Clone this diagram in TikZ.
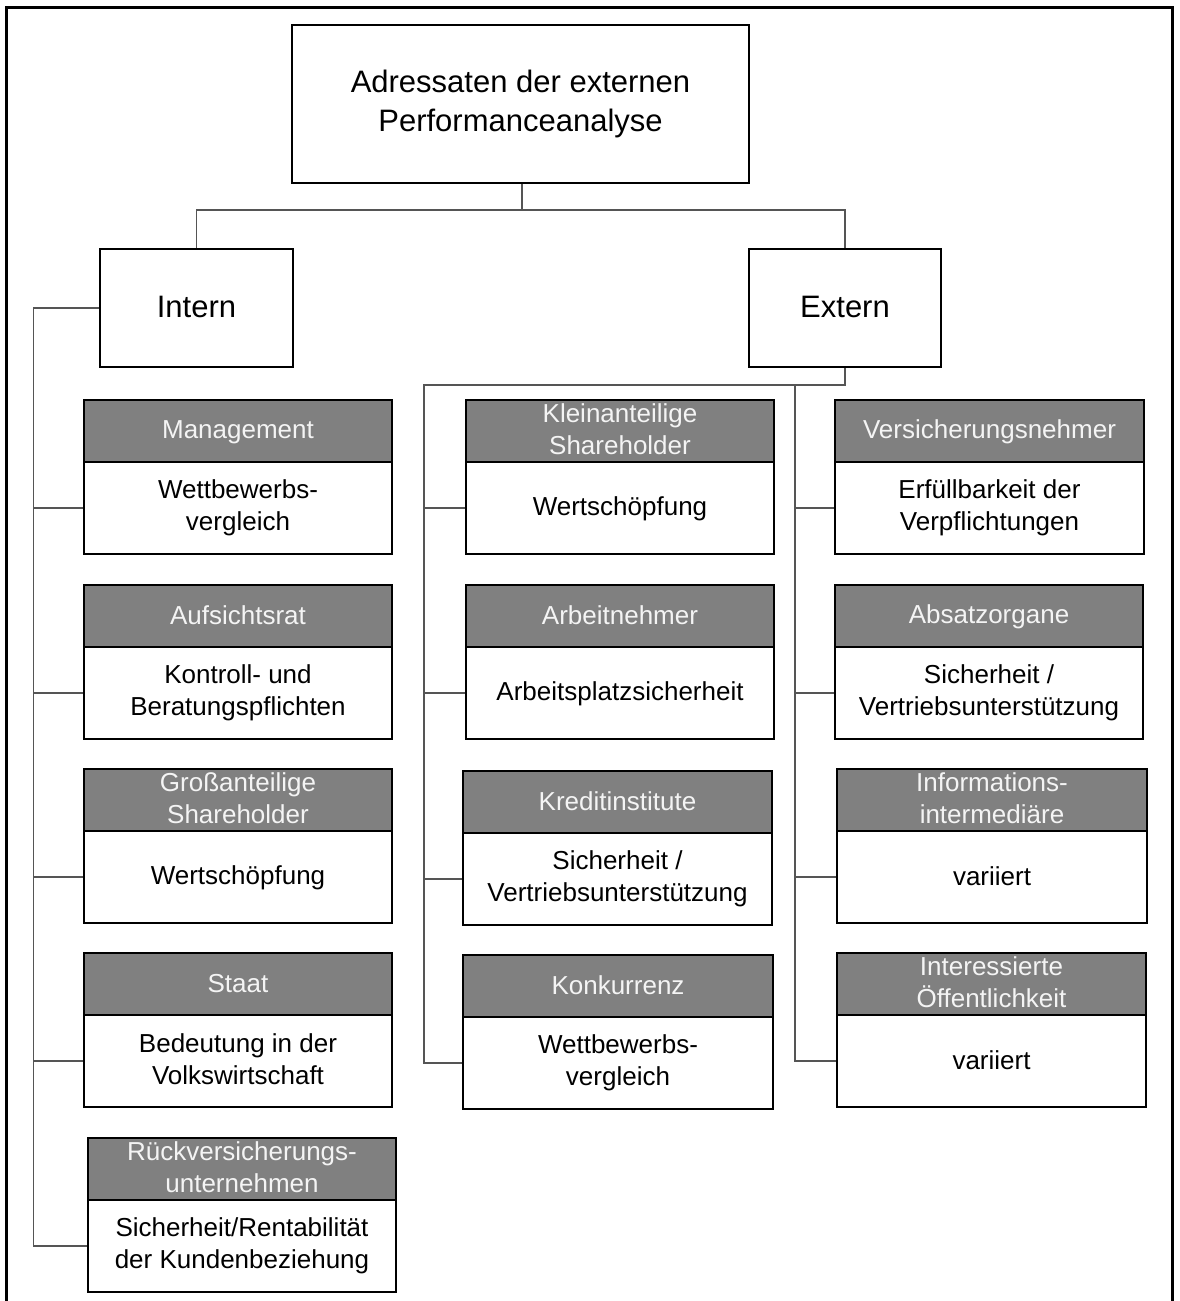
\documentclass[tikz,border=0pt]{standalone}
\usepackage{fontspec}
\setmainfont{Liberation Sans}
\definecolor{hdrgray}{HTML}{808080}
\definecolor{hdrtext}{HTML}{F4F4F4}
\definecolor{linegray}{HTML}{555555}
\newcommand\bigfont{\fontsize{31}{39}\selectfont}
\newcommand\boxfont{\fontsize{26}{32}\selectfont}
\newcommand\smallstrut{\rule[-4pt]{0pt}{24pt}}
\newcommand\bigstrut{\rule[-4pt]{0pt}{26pt}}
\tikzset{
  topbox/.style={draw, line width=2.5pt, fill=white, align=center, inner sep=0pt, font=\bigfont,
    execute at begin node=\bigstrut, execute at end node=\bigstrut},
  hdr/.style={draw, line width=2.5pt, fill=hdrgray, text=hdrtext, minimum height=62pt, inner sep=0pt, align=center, font=\boxfont,
    execute at begin node=\smallstrut, execute at end node=\smallstrut},
  bdy/.style={draw, line width=2.5pt, fill=white, text=black, minimum height=92pt, inner sep=0pt, align=center, font=\boxfont,
    execute at begin node=\smallstrut, execute at end node=\smallstrut},
  conn/.style={draw=linegray, line width=1.3pt},
  frame/.style={draw=black, line width=3pt}
}
% name, x centre, top y, width, header text, body text
\newcommand\twobox[6]{%
  \node[hdr, minimum width=#4pt] (#1h) at (#2, #3+31) {#5};
  \node[bdy, minimum width=#4pt] (#1b) at (#2, #3+108) {#6};
}
\begin{document}
\begin{tikzpicture}[x=1pt, y=-1pt]
\useasboundingbox (0,0) rectangle (1179,1301);
\fill[white] (0,0) rectangle (1179,1301);
\draw[frame] (6,7) rectangle (1172,1312);

% top level
\node[topbox, minimum width=457pt, minimum height=158pt] (top) at (520.5,104) {Adressaten der externen\\Performanceanalyse};
\node[topbox, minimum width=193pt, minimum height=118pt] (intern) at (196.5,308) {Intern};
\node[topbox, minimum width=192pt, minimum height=118pt] (extern) at (845,308) {Extern};

% left column
\twobox{la}{238}{400}{308}{Management}{Wettbewerbs-\\vergleich}
\twobox{lb}{238}{585}{308}{Aufsichtsrat}{Kontroll- und\\Beratungspflichten}
\twobox{lc}{238}{769}{308}{Großanteilige\\Shareholder}{Wertschöpfung}
\twobox{ld}{238}{953}{308}{Staat}{Bedeutung in der\\Volkswirtschaft}
\twobox{le}{242}{1138}{308}{Rückversicherungs-\\unternehmen}{Sicherheit/Rentabilität\\der Kundenbeziehung}

% middle column
\twobox{ma}{620}{400}{308}{Kleinanteilige\\Shareholder}{Wertschöpfung}
\twobox{mb}{620}{585}{308}{Arbeitnehmer}{Arbeitsplatzsicherheit}
\twobox{mc}{617.5}{771}{309}{Kreditinstitute}{Sicherheit /\\Vertriebsunterstützung}
\twobox{md}{618}{955}{310}{Konkurrenz}{Wettbewerbs-\\vergleich}

% right column
\twobox{ra}{989.5}{400}{309}{Versicherungsnehmer}{Erfüllbarkeit der\\Verpflichtungen}
\twobox{rb}{989}{585}{308}{Absatzorgane}{Sicherheit /\\Vertriebsunterstützung}
\twobox{rc}{992}{769}{310}{Informations-\\intermediäre}{variiert}
\twobox{rd}{991.5}{953}{309}{Interessierte\\Öffentlichkeit}{variiert}

% connectors
\coordinate (tj) at (522,210);
\path (intern.west) ++(-65,0) coordinate (ls);
\coordinate (ms) at (424,385);
\coordinate (rs) at (795,385);

\draw[conn] (top.south -| tj) -- (tj);
\draw[conn] (intern.north) |- (tj) -| (extern.north);

\draw[conn] (intern.west) -- (ls) |- (leb.west);
\foreach \b in {la,lb,lc,ld}{\draw[conn] (ls |- \b b.west) -- (\b b.west);}

\draw[conn] (extern.south) |- (ms) |- (mdb.west);
\foreach \b in {ma,mb,mc}{\draw[conn] (ms |- \b b.west) -- (\b b.west);}

\draw[conn] (rs) |- (rdb.west);
\foreach \b in {ra,rb,rc}{\draw[conn] (rs |- \b b.west) -- (\b b.west);}
\end{tikzpicture}
\end{document}
